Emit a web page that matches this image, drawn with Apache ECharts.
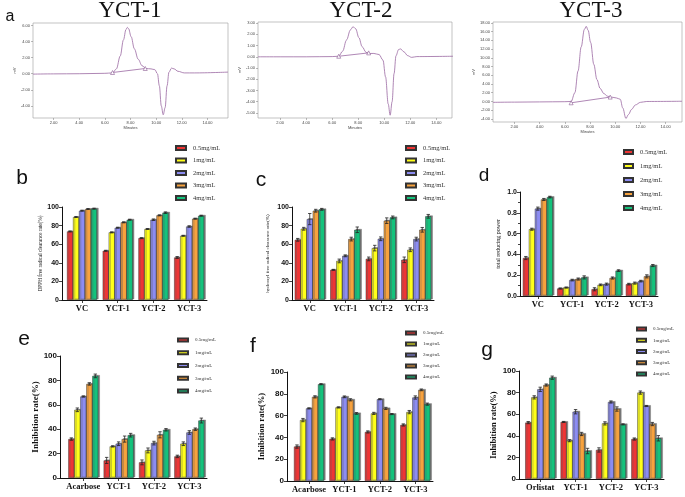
<!DOCTYPE html>
<html><head><meta charset="utf-8">
<script src="https://cdn.jsdelivr.net/npm/echarts@6/dist/echarts.min.js"></script>
<style>html,body{margin:0;padding:0;background:#fff}#c{width:685px;height:497px}</style>
</head><body><div id="c"></div><script>
// ---------- DATA ----------
const concentrations = ['0.5mg/mL', '1mg/mL', '2mg/mL', '3mg/mL', '4mg/mL'];
const catsAntiox = ['VC', 'YCT-1', 'YCT-2', 'YCT-3'];
const catsAmylase = ['Acarbose', 'YCT-1', 'YCT-2', 'YCT-3'];
const catsLipase = ['Orlistat', 'YCT-1', 'YCT-2', 'YCT-3'];
const chromTitles = ['YCT-1', 'YCT-2', 'YCT-3'];

// chromatograms: [minutes, mV]
const chromYCT1 = [[0.4,-0.05],[2,-0.02],[4,0.0],[6,0.05],[6.6,0.1],[6.9,0.6],[7.2,2.2],[7.45,4.2],[7.65,5.5],[7.75,5.75],[7.85,5.6],[8.05,4.6],[8.3,3.1],[8.6,1.8],[8.9,1.0],[9.2,0.65],[9.6,0.6],[9.9,0.5],[10.1,0.0],[10.25,-1.5],[10.4,-4.0],[10.55,-5.1],[10.7,-4.2],[10.85,-1.5],[11.0,0.2],[11.2,0.7],[11.4,0.6],[11.7,0.3],[12.2,0.1],[13,0.1],[15.6,0.2]];
const chromYCT2 = [[0.3,0.0],[2,0.0],[4,0.0],[6,0.02],[6.5,0.05],[6.8,0.5],[7.1,1.5],[7.4,2.4],[7.6,2.68],[7.8,2.5],[8.05,1.7],[8.3,0.9],[8.6,0.4],[8.8,0.3],[9.2,0.3],[9.6,0.2],[9.9,-0.3],[10.1,-1.8],[10.3,-4.2],[10.45,-5.2],[10.6,-4.0],[10.75,-1.5],[10.9,0.1],[11.1,0.65],[11.25,0.7],[11.5,0.45],[11.8,0.1],[12.1,-0.05],[12.5,0.02],[15.3,0.05]];
const chromYCT3 = [[0.3,-0.2],[2,-0.15],[4,-0.1],[6,-0.05],[6.5,0.0],[6.8,2.0],[7.05,7.0],[7.3,12.5],[7.55,16.5],[7.7,17.2],[7.85,16.3],[8.05,13.5],[8.3,8.5],[8.55,5.0],[8.8,3.0],[9.1,1.8],[9.4,1.2],[9.7,1.0],[10.1,0.8],[10.4,0.5],[10.6,-1.5],[10.85,-3.9],[11.05,-3.0],[11.3,-1.8],[11.6,-0.8],[12.0,-0.2],[12.5,0.0],[15.3,0.05]];
const baseYCT1 = [[6.6,0.15],[9.15,0.65]];
const baseYCT2 = [[6.5,0.05],[8.8,0.35]];
const baseYCT3 = [[6.5,-0.3],[9.6,1.0]];
const chromXTicks = [2,4,6,8,10,12,14];
const chromYTicks1 = [-4,-2,0,2,4,6];
const chromYTicks2 = [-5,-4,-3,-2,-1,0,1,2,3];
const chromYTicks3 = [-4,-2,0,2,4,6,8,10,12,14,16,18];

// bar values: one row per concentration, one column per category
const dpph = [[73.7,52.9,66.5,45.7],[89.2,72.7,76.3,69],[96,77.7,86.3,79],[97.8,83.5,91,87.4],[98.2,86.3,93.9,90.6]];
const dpphErr = [[0.5,0.5,0.5,1],[0.5,0.5,0.5,0.5],[0.5,0.5,0.8,0.8],[0.5,0.5,0.5,0.5],[0.5,0.5,0.8,0.5]];
const hydroxyl = [[64.7,32.4,44.2,43.2],[76.6,42,55.8,54],[87,47.5,65.8,65.5],[96,65.5,85.3,75.5],[97.5,75.5,88.8,90]];
const hydroxylErr = [[1.5,0.5,2,3],[1.5,2,3,2],[6,1,2,2],[1.5,2,3,2.5],[1,3,1.5,2]];
const reducing = [[0.365,0.072,0.065,0.114],[0.642,0.081,0.107,0.124],[0.84,0.153,0.114,0.143],[0.928,0.163,0.173,0.189],[0.951,0.179,0.244,0.293]];
const reducingErr = [[0.015,0.005,0.015,0.008],[0.01,0.005,0.008,0.01],[0.015,0.008,0.01,0.008],[0.01,0.01,0.01,0.015],[0.008,0.015,0.008,0.01]];
const amylase = [[31.9,14.4,12.8,17.7],[55.9,25.9,22.6,28.1],[66.8,28.1,28.6,37.3],[77.1,31.9,35.4,40],[83.7,35.1,39.5,47.1]];
const amylaseErr = [[1,2.5,2,1],[1.5,0.5,2,1.5],[0.5,1.5,1.5,1.5],[1,2.5,2.5,1],[1.5,1.5,1,2]];
const glucosidase = [[31.6,38.6,45,51.4],[55.9,67.5,62,63.2],[66.6,77.2,75,76.6],[77.2,74.5,66.6,83.6],[88.8,62,61.4,70.5]];
const glucosidaseErr = [[1.5,1,1,1],[1.5,0.5,1,1.5],[0.5,0.8,0.5,1.5],[1,1,1,0.8],[0.5,0.8,0.5,1]];
const lipase = [[52.2,52.8,26.9,37],[75.6,35.5,51.5,80],[83,62.3,71.3,67.6],[87,41.7,64.8,50.9],[93.8,25.9,50.6,37.7]];
const lipaseErr = [[1,0.5,2,1],[1.5,1,1.5,1.5],[2,2,1,0.5],[1,1.5,2,1.5],[1.5,2.5,0.5,2.5]];

// ---------- STYLE ----------
const COLORS = ['#EE3535', '#FFFF1A', '#8C8CF2', '#F7A23E', '#14C27C'];
const SERIF = '"Liberation Serif", "Times New Roman", serif';
const SANS = '"Liberation Sans", Arial, sans-serif';
const BAR_W = 6;

const option = { animation: false, backgroundColor: '#fff', grid: [], xAxis: [], yAxis: [], series: [], legend: [], graphic: [] };

// ---------- chromatograms ----------
function addChrom(box, xr, yr, yTicks, pts, base) {
  const gi = option.grid.length;
  option.grid.push({ left: box[0], top: box[1], width: box[2] - box[0], height: box[3] - box[1], show: true, borderColor: '#9a9a9a', borderWidth: 0.6, backgroundColor: 'transparent' });
  option.xAxis.push({ type: 'value', gridIndex: gi, min: xr[0], max: xr[1],
    name: 'Minutes', nameLocation: 'middle', nameGap: 8, nameTextStyle: { fontSize: 4, color: '#444', fontFamily: SANS },
    axisLine: { show: false, onZero: false }, splitLine: { show: false },
    axisTick: { show: true, length: 2, lineStyle: { color: '#777', width: 0.5 }, customValues: chromXTicks },
    axisLabel: { fontSize: 4, color: '#444', margin: 3, fontFamily: SANS, customValues: chromXTicks, formatter: v => v.toFixed(2) } });
  option.yAxis.push({ type: 'value', gridIndex: gi, min: yr[0], max: yr[1],
    name: 'mV', nameLocation: 'middle', nameGap: 15, nameRotate: 90, nameTextStyle: { fontSize: 4, color: '#444', fontFamily: SANS },
    axisLine: { show: false, onZero: false }, splitLine: { show: false },
    axisTick: { show: true, length: 2, lineStyle: { color: '#777', width: 0.5 }, customValues: yTicks },
    axisLabel: { fontSize: 4, color: '#444', margin: 3, fontFamily: SANS, customValues: yTicks, formatter: v => v.toFixed(2) } });
  option.series.push({ type: 'line', xAxisIndex: gi, yAxisIndex: gi, data: pts, smooth: 0.35, smoothMonotone: 'x', showSymbol: false, symbol: 'none', silent: true,
    lineStyle: { color: '#9a68a2', width: 0.8 } });
  option.series.push({ type: 'line', xAxisIndex: gi, yAxisIndex: gi, data: base, symbol: 'triangle', symbolSize: 4, showSymbol: true, silent: true,
    itemStyle: { color: '#fff', borderColor: '#8a5a92', borderWidth: 0.6 }, lineStyle: { color: '#9a68a2', width: 0.8 } });
}
addChrom([33, 23, 228, 118], [0.4, 15.6], [-5.5, 6.3], chromYTicks1, chromYCT1, baseYCT1);
addChrom([258, 22, 452, 118], [0.3, 15.2], [-5.45, 3.1], chromYTicks2, chromYCT2, baseYCT2);
addChrom([493, 22, 682, 122], [0.3, 15.3], [-4.7, 18.2], chromYTicks3, chromYCT3, baseYCT3);

// ---------- bar panels ----------
function addBars(p) {
  const gi = option.grid.length;
  option.grid.push({ left: p.box[0], top: p.box[1], width: p.box[2] - p.box[0], height: p.box[3] - p.box[1] });
  option.xAxis.push({ type: 'value', gridIndex: gi, min: p.xmin, max: 3.5,
    axisLine: { show: true, onZero: false, lineStyle: { color: '#111', width: 1 } }, splitLine: { show: false },
    axisTick: { show: true, length: 3, lineStyle: { color: '#111', width: 0.8 }, customValues: [0, 1, 2, 3] },
    axisLabel: { customValues: [0, 1, 2, 3], formatter: v => p.cats[Math.round(v)], fontFamily: SERIF, fontWeight: 'bold', fontSize: p.xFont, color: '#111', margin: 4 } });
  option.yAxis.push({ type: 'value', gridIndex: gi, min: 0, max: p.ymax, interval: p.yint,
    name: p.yname, nameLocation: 'middle', nameGap: p.nameGap, nameRotate: 90,
    nameTextStyle: { fontFamily: SERIF, fontSize: p.nameFont, fontWeight: p.nameBold ? 'bold' : 'normal', color: '#111' },
    axisLine: { show: true, onZero: false, lineStyle: { color: '#111', width: 1 } }, splitLine: { show: false },
    axisTick: { show: true, length: 3, lineStyle: { color: '#111', width: 0.8 } },
    minorTick: p.minor ? { show: true, splitNumber: 2, length: 2, lineStyle: { color: '#111', width: 0.8 } } : { show: false },
    axisLabel: { fontFamily: SANS, fontWeight: 'bold', fontSize: p.yFont, color: '#111', margin: 3, formatter: p.yfmt || (v => String(v)) } });
  p.vals.forEach((row, s) => {
    option.series.push({ type: 'bar', name: concentrations[s], xAxisIndex: gi, yAxisIndex: gi,
      data: row.map((v, c) => [c, v]), barWidth: BAR_W, barGap: '0%', silent: true,
      itemStyle: { color: COLORS[s], borderColor: '#333', borderWidth: 0.5, shadowColor: 'rgba(90,90,90,0.75)', shadowBlur: 0, shadowOffsetX: 1.5, shadowOffsetY: -0.8 } });
  });
  const edata = [];
  p.vals.forEach((row, s) => row.forEach((v, c) => edata.push([c, v - p.errs[s][c], v + p.errs[s][c], s])));
  option.series.push({ type: 'custom', xAxisIndex: gi, yAxisIndex: gi, z: 5, silent: true, data: edata,
    encode: { x: 0, y: [1, 2] },
    renderItem(params, api) {
      const c = api.value(0), s = api.value(3);
      const lo = api.coord([c, api.value(1)]), hi = api.coord([c, api.value(2)]);
      const x = lo[0] + (s - 2) * BAR_W;
      const st = { stroke: '#222', lineWidth: 0.8 };
      return { type: 'group', children: [
        { type: 'line', shape: { x1: x, y1: lo[1], x2: x, y2: hi[1] }, style: st },
        { type: 'line', shape: { x1: x - 1.7, y1: hi[1], x2: x + 1.7, y2: hi[1] }, style: st },
        { type: 'line', shape: { x1: x - 1.7, y1: lo[1], x2: x + 1.7, y2: lo[1] }, style: st }
      ] };
    } });
  option.legend.push({ data: concentrations, orient: 'vertical', left: p.leg[0], top: p.leg[1], itemWidth: p.leg[2], itemHeight: p.leg[3],
    itemGap: p.leg[4], selectedMode: false, icon: 'rect',
    textStyle: { fontFamily: SERIF, fontSize: p.leg[5], lineHeight: p.leg[6], color: '#333', padding: [0, 0, 0, 2] } });
}

addBars({ box: [62, 207, 207, 300], xmin: -0.56, cats: catsAntiox, vals: dpph, errs: dpphErr, ymax: 100, yint: 20,
  yname: 'DPPH free radical clearance rate(%)', nameGap: 19, nameFont: 5.2, xFont: 8.5, yFont: 7, leg: [170, 139.5, 10, 4, 5.5, 6.5, 7] });
addBars({ box: [292, 207, 434, 300], xmin: -0.5, cats: catsAntiox, vals: hydroxyl, errs: hydroxylErr, ymax: 100, yint: 20,
  yname: 'hydroxyl free radical clearance rate(%)', nameGap: 22, nameFont: 5, xFont: 8.5, yFont: 7, leg: [400, 139.5, 10, 4, 5.5, 6.5, 7] });
addBars({ box: [520, 192, 658, 296], xmin: -0.52, cats: catsAntiox, vals: reducing, errs: reducingErr, ymax: 1, yint: 0.2, minor: true,
  yfmt: v => v.toFixed(1), yname: 'total reducing power', nameGap: 19, nameFont: 6, xFont: 8.5, yFont: 7, leg: [618, 143.5, 9, 4, 7, 6.5, 7] });
addBars({ box: [60, 356, 207, 478], xmin: -0.66, cats: catsAmylase, vals: amylase, errs: amylaseErr, ymax: 100, yint: 20,
  yname: 'Inhibition rate(%)', nameGap: 15, nameFont: 9, nameBold: true, xFont: 8.5, yFont: 8, leg: [172, 332, 10, 3, 6.75, 5, 6] });
addBars({ box: [287, 372, 433, 481], xmin: -0.62, cats: catsAmylase, vals: glucosidase, errs: glucosidaseErr, ymax: 100, yint: 20,
  yname: 'Inhibition rate(%)', nameGap: 14, nameFont: 8.5, nameBold: true, xFont: 8.5, yFont: 8, leg: [400, 325, 10, 3, 5, 5, 6] });
addBars({ box: [519, 371, 664, 479], xmin: -0.6, cats: catsLipase, vals: lipase, errs: lipaseErr, ymax: 100, yint: 20,
  yname: 'Inhibition rate(%)', nameGap: 15, nameFont: 8.5, nameBold: true, xFont: 8.5, yFont: 8, leg: [631, 321, 9, 3, 5.25, 5, 6] });

// ---------- titles & panel letters ----------
const panelLetters = [['a', 10, 17, 16], ['b', 22, 178, 21], ['c', 261, 180, 21], ['d', 484, 176, 19], ['e', 24, 339, 21], ['f', 253, 346, 21], ['g', 487, 350, 21]];
panelLetters.forEach(([t, x, y, fs]) => option.graphic.push({ type: 'text', x, y, silent: true,
  style: { text: t, fontFamily: SANS, fontSize: fs, fill: '#111', align: 'center', verticalAlign: 'middle' } }));
[[130, 11], [361, 11], [591, 11]].forEach(([x, y], i) => option.graphic.push({ type: 'text', x, y, silent: true,
  style: { text: chromTitles[i], fontFamily: SERIF, fontSize: 23, fill: '#111', align: 'center', verticalAlign: 'middle' } }));

echarts.init(document.getElementById('c'), null, { renderer: 'canvas' }).setOption(option);
</script></body></html>
